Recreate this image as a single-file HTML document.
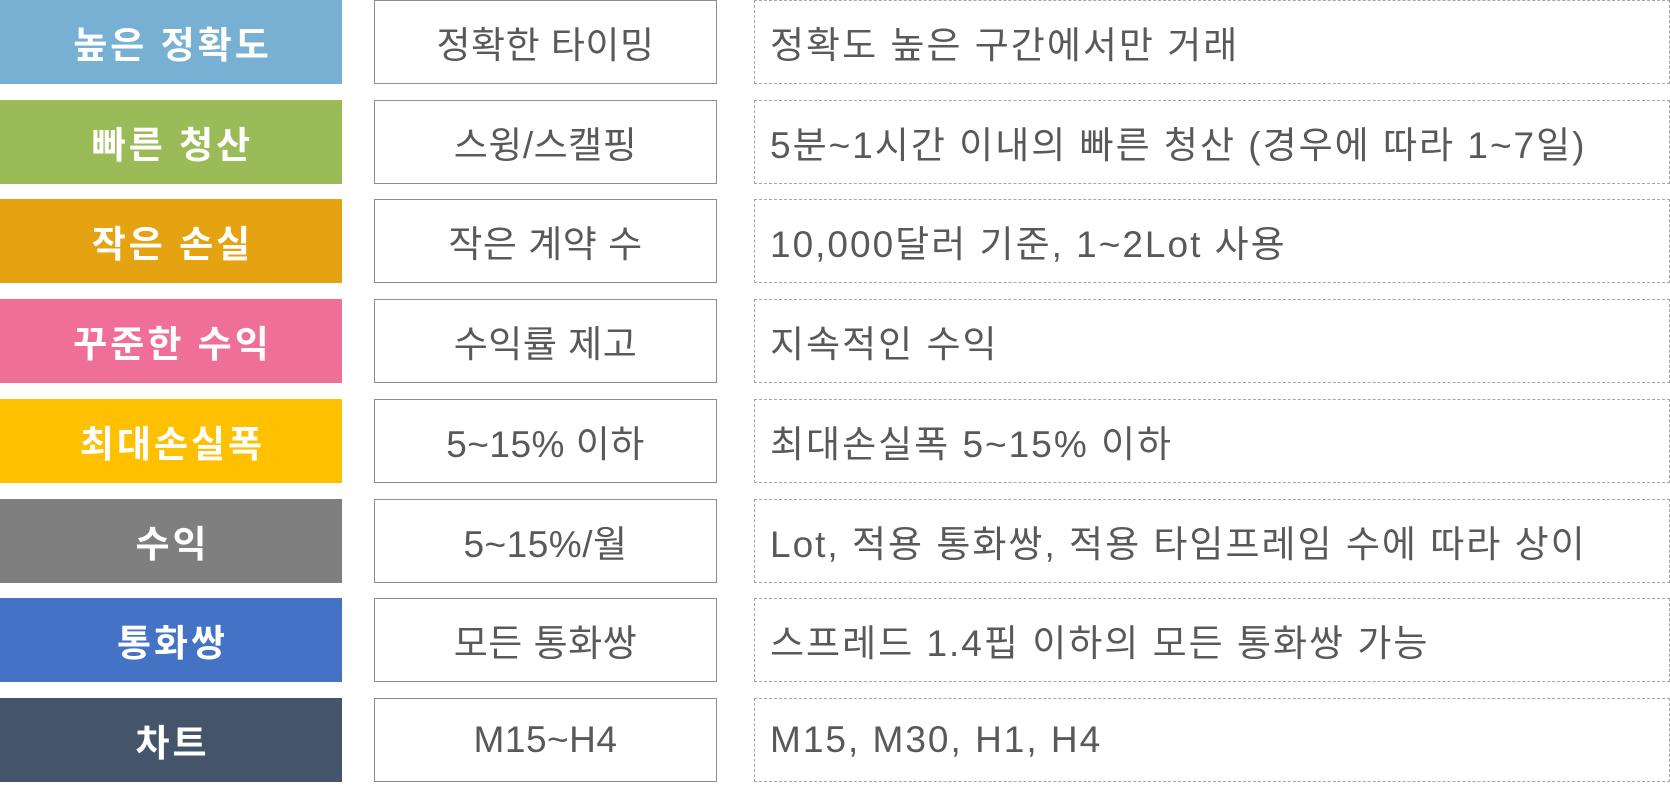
<!DOCTYPE html>
<html><head><meta charset="utf-8"><style>
body{margin:0;width:1670px;height:785px;background:#fff;position:relative;overflow:hidden;font-family:"Liberation Sans","Noto Sans CJK KR",sans-serif}
.c{position:absolute;height:84px;display:flex;align-items:center;box-sizing:border-box;white-space:nowrap}
.l{left:0;width:342px;justify-content:center;color:#fff;font-weight:bold;font-size:37px;letter-spacing:3px;text-indent:3px}
.m{left:374px;width:343px;justify-content:center;border:1.5px solid #8c8c8c;color:#595959;font-size:37px;letter-spacing:0.5px}
.r{left:754px;width:916px;padding-left:15px;border:1.5px dashed #a6a6a6;color:#595959;font-size:37px;letter-spacing:2px}
</style></head><body>
<div id="t"></div>
<script>
const labels=["높은 정확도","빠른 청산","작은 손실","꾸준한 수익","최대손실폭","수익","통화쌍","차트"];
const mids=["정확한 타이밍","스윙/스캘핑","작은 계약 수","수익률 제고","5~15% 이하","5~15%/월","모든 통화쌍","M15~H4"];
const descs=["정확도 높은 구간에서만 거래","5분~1시간 이내의 빠른 청산 (경우에 따라 1~7일)","10,000달러 기준, 1~2Lot 사용","지속적인 수익","최대손실폭 5~15% 이하","Lot, 적용 통화쌍, 적용 타임프레임 수에 따라 상이","스프레드 1.4핍 이하의 모든 통화쌍 가능","M15, M30, H1, H4"];
const colors=["#77b0d3","#9bbb59","#e6a311","#f06f96","#ffc000","#7f7f7f","#4472c4","#44546a"];
const t=document.getElementById('t');
labels.forEach((s,i)=>{
 const top=Math.round(i*99.7)+'px';
 const a=document.createElement('div');a.className='c l';a.style.top=top;a.style.background=colors[i];a.textContent=s;
 
 
 const b=document.createElement('div');b.className='c m';b.style.top=top;b.textContent=mids[i];
 
 
 const c=document.createElement('div');c.className='c r';c.style.top=top;c.textContent=descs[i];
 
 
 t.append(a,b,c);
});
</script>
</body></html>
